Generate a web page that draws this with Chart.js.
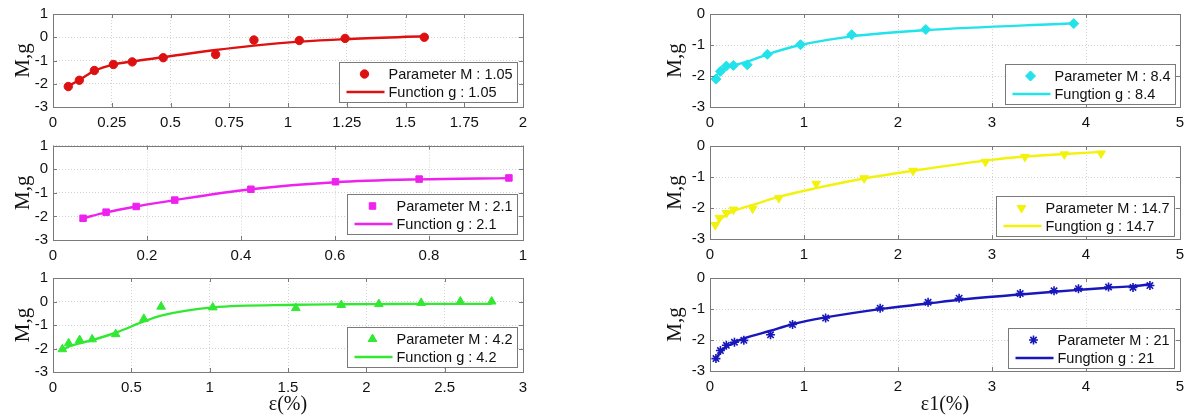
<!DOCTYPE html>
<html>
<head>
<meta charset="utf-8">
<script src="https://cdn.jsdelivr.net/npm/chart.js@4.4.1/dist/chart.umd.min.js"></script>
<style>
  html, body { margin: 0; padding: 0; background: #fff; }
  body { width: 1189px; height: 419px; position: relative; overflow: hidden; }
  canvas { position: absolute; }
</style>
</head>
<body>
<canvas id="p1"></canvas>
<canvas id="p2"></canvas>
<canvas id="p3"></canvas>
<canvas id="p4"></canvas>
<canvas id="p5"></canvas>
<canvas id="p6"></canvas>
<script>
// tick labels
const xTicks105 = [0, 0.25, 0.5, 0.75, 1, 1.25, 1.5, 1.75, 2];
const xTicks21 = [0, 0.2, 0.4, 0.6, 0.8, 1];
const xTicks42 = [0, 0.5, 1, 1.5, 2, 2.5, 3];
const xTicksRight = [0, 1, 2, 3, 4, 5];
const yTicksLeft = [-3, -2, -1, 0, 1];
const yTicksRight = [-3, -2, -1, 0];

// M = 1.05
const strain105 = [0.065, 0.112, 0.176, 0.257, 0.337, 0.469, 0.692, 0.855, 1.048, 1.243, 1.58];
const paramM105 = [-2.12, -1.85, -1.43, -1.17, -1.06, -0.88, -0.74, -0.12, -0.14, -0.05, 0.0];
const funcG105  = [-2.1, -1.84, -1.45, -1.18, -1.04, -0.86, -0.55, -0.36, -0.19, -0.08, 0.04];

// M = 2.1
const strain21 = [0.064, 0.113, 0.177, 0.259, 0.421, 0.601, 0.779, 0.97];
const paramM21 = [-2.08, -1.82, -1.58, -1.31, -0.85, -0.53, -0.42, -0.37];
const funcG21  = [-2.08, -1.83, -1.58, -1.31, -0.85, -0.55, -0.43, -0.38];

// M = 4.2
const strain42 = [0.06, 0.1, 0.17, 0.25, 0.4, 0.58, 0.69, 1.02, 1.55, 1.84, 2.08, 2.35, 2.6, 2.8];
const paramM42 = [-2.03, -1.78, -1.64, -1.61, -1.39, -0.74, -0.22, -0.25, -0.28, -0.15, -0.11, -0.06, 0.0, 0.0];
const funcG42  = [-2.07, -1.92, -1.78, -1.64, -1.33, -0.85, -0.6, -0.25, -0.14, -0.12, -0.11, -0.1, -0.1, -0.1];

// M = 8.4
const strain84 = [0.063, 0.111, 0.174, 0.248, 0.396, 0.611, 0.963, 1.507, 2.296, 3.87];
const paramM84 = [-2.1, -1.85, -1.68, -1.66, -1.64, -1.3, -0.99, -0.67, -0.5, -0.31];
const funcG84  = [-2.02, -1.83, -1.74, -1.66, -1.54, -1.3, -1.0, -0.72, -0.52, -0.3];

// M = 14.7
const strain147 = [0.056, 0.1, 0.175, 0.25, 0.454, 0.732, 1.13, 1.64, 2.16, 2.93, 3.35, 3.77, 4.16];
const paramM147 = [-2.55, -2.32, -2.16, -2.05, -2.02, -1.68, -1.22, -1.04, -0.8, -0.51, -0.35, -0.27, -0.24];
const funcG147  = [-2.6, -2.4, -2.22, -2.1, -1.9, -1.64, -1.36, -1.05, -0.8, -0.47, -0.34, -0.26, -0.19];

// M = 21
const strainM21 = [0.063, 0.111, 0.174, 0.26, 0.36, 0.644, 0.878, 1.23, 1.81, 2.32, 2.65, 3.3, 3.66, 3.92, 4.24, 4.5, 4.68];
const paramMM21 = [-2.6, -2.34, -2.17, -2.07, -2.01, -1.83, -1.5, -1.29, -0.97, -0.78, -0.65, -0.5, -0.41, -0.34, -0.29, -0.3, -0.24];
const funcGM21  = [-2.6, -2.4, -2.22, -2.08, -1.95, -1.7, -1.49, -1.27, -1.0, -0.82, -0.7, -0.53, -0.44, -0.38, -0.31, -0.26, -0.2];

const SANS = 'Liberation Sans';
const SERIF = 'Liberation Serif';

const toXY = (xs, ys) => xs.map((x, i) => ({ x, y: ys[i] }));

// frame, inward ticks and the boxed legend inside the axes
const frame = {
  id: 'frame',
  afterDatasetsDraw(chart, args, opts) {
    const { ctx, chartArea: a, scales: { x, y } } = chart;
    ctx.save();
    ctx.strokeStyle = '#7a7a7a';
    ctx.lineWidth = 1;
    ctx.beginPath();
    x.ticks.forEach(t => {
      const px = Math.round(x.getPixelForValue(t.value)) + 0.5;
      ctx.moveTo(px, a.bottom); ctx.lineTo(px, a.bottom - 4);
      ctx.moveTo(px, a.top); ctx.lineTo(px, a.top + 4);
    });
    y.ticks.forEach(t => {
      const py = Math.round(y.getPixelForValue(t.value)) + 0.5;
      ctx.moveTo(a.left, py); ctx.lineTo(a.left + 4, py);
      ctx.moveTo(a.right, py); ctx.lineTo(a.right - 4, py);
    });
    ctx.stroke();
    ctx.strokeRect(Math.round(a.left) + 0.5, Math.round(a.top) + 0.5, Math.round(a.width), Math.round(a.height));

    // legend
    const pts = chart.data.datasets[0];
    const line = chart.data.datasets[1];
    ctx.font = '14.5px "' + SANS + '"';
    const tw = Math.max(ctx.measureText(pts.label).width, ctx.measureText(line.label).width);
    const w = Math.round(49 + tw + 5), h = 40;
    const left = Math.round(a.right - opts.right - w) + 0.5;
    const top = Math.round(a.bottom - opts.bottom - h) + 0.5;
    ctx.fillStyle = '#fff';
    ctx.fillRect(left, top, w, h);
    ctx.strokeStyle = '#7a7a7a';
    ctx.strokeRect(left, top, w, h);
    const r1 = top + 11.5, r2 = top + 29.5;
    ctx.fillStyle = pts.backgroundColor;
    ctx.strokeStyle = pts.borderColor;
    ctx.lineWidth = pts.borderWidth;
    Chart.helpers.drawPoint(ctx, {
      pointStyle: pts.pointStyle, radius: pts.pointRadius,
      rotation: pts.pointRotation || 0, borderWidth: pts.borderWidth
    }, left + 25, r1);
    ctx.strokeStyle = line.borderColor;
    ctx.lineWidth = line.borderWidth;
    ctx.beginPath();
    ctx.moveTo(left + 7, r2); ctx.lineTo(left + 45, r2);
    ctx.stroke();
    ctx.fillStyle = '#111';
    ctx.textBaseline = 'middle';
    ctx.fillText(pts.label, left + 49, r1 + 1);
    ctx.fillText(line.label, left + 49, r2 + 1);
    ctx.restore();
  }
};

function panel(id, box, area, cfg) {
  const cv = document.getElementById(id);
  cv.width = box[2]; cv.height = box[3];
  cv.style.left = box[0] + 'px'; cv.style.top = box[1] + 'px';
  const yW = area[0] - box[0];
  const padTop = area[1] - box[1];
  const padRight = box[0] + box[2] - area[2];
  const xH = box[1] + box[3] - area[3];
  const tickFont = { family: SANS, size: 15 };
  new Chart(cv, {
    type: 'scatter',
    data: {
      datasets: [{
        label: cfg.pointLabel,
        data: toXY(cfg.xs, cfg.ms),
        showLine: false,
        pointStyle: cfg.style,
        pointRotation: cfg.rotation || 0,
        pointRadius: cfg.radius,
        backgroundColor: cfg.color,
        borderColor: cfg.color,
        borderWidth: cfg.style === 'star' ? 1.6 : 1,
        order: 1
      }, {
        label: cfg.lineLabel,
        data: toXY(cfg.xs, cfg.gs),
        showLine: true,
        pointRadius: 0,
        borderColor: cfg.color,
        backgroundColor: cfg.color,
        borderWidth: 2.4,
        cubicInterpolationMode: 'monotone',
        order: 0
      }]
    },
    options: {
      responsive: false,
      animation: false,
      layout: { padding: { left: 0, top: padTop, right: padRight, bottom: 0 } },
      plugins: {
        legend: { display: false },
        tooltip: { enabled: false },
        frame: { right: cfg.legendRight, bottom: cfg.legendBottom }
      },
      scales: {
        x: {
          type: 'linear',
          min: cfg.xTicks[0],
          max: cfg.xTicks[cfg.xTicks.length - 1],
          afterBuildTicks: s => { s.ticks = cfg.xTicks.map(v => ({ value: v })); },
          afterFit: s => { s.height = xH; s.paddingLeft = 0; s.paddingRight = 0; },
          ticks: { font: tickFont, color: '#111', padding: 7, maxRotation: 0, callback: v => String(v) },
          grid: { color: '#d2d2d2', drawTicks: false },
          border: { display: false, dash: [1, 2] },
          title: {
            display: !!cfg.xTitle,
            text: cfg.xTitle || '',
            color: '#111',
            font: { family: SERIF, size: 20 },
            padding: { top: 0, bottom: 2 }
          }
        },
        y: {
          type: 'linear',
          min: cfg.yTicks[0],
          max: cfg.yTicks[cfg.yTicks.length - 1],
          afterBuildTicks: s => { s.ticks = cfg.yTicks.map(v => ({ value: v })); },
          afterFit: s => { s.width = yW; s.paddingTop = 0; s.paddingBottom = 0; },
          ticks: { font: tickFont, color: '#111', padding: 5, callback: v => String(v) },
          grid: { color: '#d2d2d2', drawTicks: false },
          border: { display: false, dash: [1, 2] },
          title: {
            display: true,
            text: 'M,g',
            color: '#111',
            font: { family: SERIF, size: 21 },
            padding: { top: cfg.yTitlePad, bottom: 0 }
          }
        }
      }
    },
    plugins: [frame]
  });
}

panel('p1', [0, 0, 560, 140], [53, 14, 523, 107], {
  xs: strain105, ms: paramM105, gs: funcG105, xTicks: xTicks105, yTicks: yTicksLeft,
  color: '#dd1111', style: 'circle', radius: 4.2,
  pointLabel: 'Parameter M : 1.05', lineLabel: 'Function g : 1.05',
  legendRight: 6, legendBottom: 5, yTitlePad: 11
});
panel('p2', [0, 140, 560, 132], [53, 144, 523, 240], {
  xs: strain21, ms: paramM21, gs: funcG21, xTicks: xTicks21, yTicks: yTicksLeft,
  color: '#ee22ee', style: 'rect', radius: 4.6,
  pointLabel: 'Parameter M : 2.1', lineLabel: 'Function g : 2.1',
  legendRight: 6, legendBottom: 6, yTitlePad: 11
});
panel('p3', [0, 272, 560, 147], [53, 277, 523, 372], {
  xs: strain42, ms: paramM42, gs: funcG42, xTicks: xTicks42, yTicks: yTicksLeft,
  color: '#33e833', style: 'triangle', radius: 5,
  pointLabel: 'Parameter M : 4.2', lineLabel: 'Function g : 4.2',
  legendRight: 6, legendBottom: 5, yTitlePad: 11, xTitle: 'ε(%)'
});
panel('p4', [640, 0, 549, 140], [710, 14, 1180, 107], {
  xs: strain84, ms: paramM84, gs: funcG84, xTicks: xTicksRight, yTicks: yTicksRight,
  color: '#22e2ea', style: 'rectRot', radius: 5,
  pointLabel: 'Parameter M : 8.4', lineLabel: 'Fungtion g : 8.4',
  legendRight: 5, legendBottom: 3, yTitlePad: 23
});
panel('p5', [640, 140, 549, 132], [710, 145, 1180, 239], {
  xs: strain147, ms: paramM147, gs: funcG147, xTicks: xTicksRight, yTicks: yTicksRight,
  color: '#f2f20c', style: 'triangle', rotation: 180, radius: 5,
  pointLabel: 'Parameter M : 14.7', lineLabel: 'Fungtion g : 14.7',
  legendRight: 6, legendBottom: 3, yTitlePad: 23
});
panel('p6', [640, 272, 549, 147], [710, 276, 1180, 371], {
  xs: strainM21, ms: paramMM21, gs: funcGM21, xTicks: xTicksRight, yTicks: yTicksRight,
  color: '#1717bb', style: 'star', radius: 4.5,
  pointLabel: 'Parameter M : 21', lineLabel: 'Fungtion g : 21',
  legendRight: 6, legendBottom: 3, yTitlePad: 23, xTitle: 'ε1(%)'
});
</script>
</body>
</html>
